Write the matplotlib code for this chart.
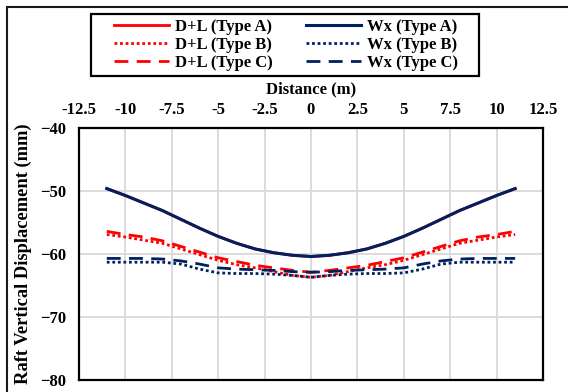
import matplotlib.pyplot as plt
from matplotlib.patches import Rectangle

# data (distance in m, displacement in mm)
distance = [-11, -10, -9, -8, -7, -6, -5, -4, -3, -2, -1, 0,
            1, 2, 3, 4, 5, 6, 7, 8, 9, 10, 11]

dl_type_a = [-49.6, -50.7, -51.9, -53.1, -54.5, -55.9, -57.2, -58.3, -59.2, -59.8, -60.2, -60.4,
             -60.2, -59.8, -59.2, -58.3, -57.2, -55.9, -54.5, -53.1, -51.9, -50.7, -49.6]
dl_type_b = [-56.9, -57.3, -57.8, -58.3, -59.2, -60.1, -61.0, -61.7, -62.2, -62.8, -63.4, -63.7,
             -63.4, -62.8, -62.2, -61.7, -61.0, -60.1, -59.2, -58.3, -57.8, -57.3, -56.9]
dl_type_c = [-56.4, -56.9, -57.3, -57.9, -58.8, -59.7, -60.6, -61.2, -61.8, -62.2, -62.6, -62.9,
             -62.6, -62.2, -61.8, -61.2, -60.6, -59.7, -58.8, -57.9, -57.3, -56.9, -56.4]

wx_type_a = [-49.6, -50.7, -51.9, -53.1, -54.5, -55.9, -57.2, -58.3, -59.2, -59.8, -60.2, -60.4,
             -60.2, -59.8, -59.2, -58.3, -57.2, -55.9, -54.5, -53.1, -51.9, -50.7, -49.6]
wx_type_b = [-61.3, -61.3, -61.3, -61.3, -61.6, -62.4, -63.0, -63.1, -63.1, -63.2, -63.4, -63.7,
             -63.4, -63.2, -63.1, -63.1, -63.0, -62.4, -61.6, -61.3, -61.3, -61.3, -61.3]
wx_type_c = [-60.7, -60.7, -60.7, -60.8, -61.1, -61.6, -62.2, -62.4, -62.5, -62.6, -62.8, -62.9,
             -62.8, -62.6, -62.5, -62.4, -62.2, -61.6, -61.1, -60.8, -60.7, -60.7, -60.7]

x_ticks = [-12.5, -10, -7.5, -5, -2.5, 0, 2.5, 5, 7.5, 10, 12.5]
x_tick_labels = ["-12.5", "-10", "-7.5", "-5", "-2.5", "0", "2.5", "5", "7.5", "10", "12.5"]
y_ticks = [-80, -70, -60, -50, -40]

RED = "#FF0000"
NAVY = "#002060"
FONT = "Liberation Serif"

plt.rcParams['font.family'] = FONT
plt.rcParams['font.weight'] = 'bold'

W, H = 568, 392
fig = plt.figure(figsize=(W / 100, H / 100), dpi=100)
ax = fig.add_axes([0.139, 0.031, 0.817, 0.642])

lw = 2.0
ax.plot(distance, dl_type_a, color=RED, lw=lw, ls='-', label="D+L (Type A)")
ax.plot(distance, dl_type_b, color=RED, lw=lw, ls=(0, (1, 1)), label="D+L (Type B)")
ax.plot(distance, dl_type_c, color=RED, lw=lw, ls=(0, (5, 3)), label="D+L (Type C)")
ax.plot(distance, wx_type_a, color=NAVY, lw=lw + 0.2, ls='-', label="Wx (Type A)")
ax.plot(distance, wx_type_b, color=NAVY, lw=lw, ls=(0, (1, 1)), label="Wx (Type B)")
ax.plot(distance, wx_type_c, color=NAVY, lw=lw, ls=(0, (5, 3)), label="Wx (Type C)")

ax.set_xlim(-12.5, 12.5)
ax.set_ylim(-80, -40)
ax.set_xticks(x_ticks)
ax.set_xticklabels(x_tick_labels)
ax.set_yticks(y_ticks)
ax.xaxis.tick_top()
ax.tick_params(axis='both', length=0, labelsize=12)
ax.tick_params(axis='x', pad=7)
ax.tick_params(axis='y', pad=9)
ax.set_ylabel("Raft Vertical Displacement (mm)", fontsize=13.3, fontweight='bold', labelpad=6)

# axis title placed above the top tick labels
fig.text(ax.get_position().x0 + ax.get_position().width / 2, 1 - 89 / H, "Distance (m)",
         ha='center', va='center', fontsize=12, fontweight='bold')

ax.grid(True, color='#d9d9d9', lw=1.3)
ax.set_axisbelow(True)
for s in ax.spines.values():
    s.set_linewidth(1.6)
    s.set_color('black')

leg = fig.legend(loc='center', bbox_to_anchor=(286 / W, 1 - 45 / H), ncol=2, fontsize=12,
                 frameon=False, handlelength=3.3, handletextpad=0.35, columnspacing=2.0,
                 labelspacing=0.14, borderpad=0.0)

# legend frame
fig.patches.append(Rectangle((91 / W, 1 - 76 / H), (479 - 91) / W, (76 - 14) / H,
                             transform=fig.transFigure, fill=False, edgecolor='black', lw=1.6))

# outer chart border (left and top visible)
fig.patches.append(Rectangle((7 / W, -0.1), 1.2, 1.1 - 7 / H, transform=fig.transFigure,
                             fill=False, edgecolor='#1a1a1a', lw=1.5))

fig.savefig("out.png", dpi=100)
